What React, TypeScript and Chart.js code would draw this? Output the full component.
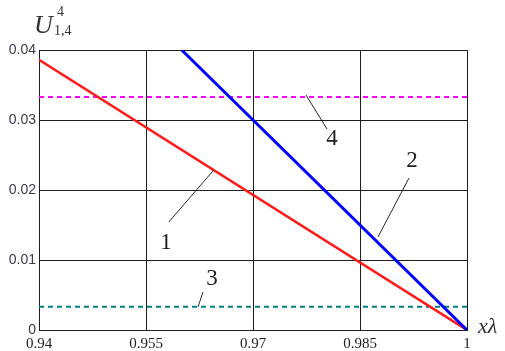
import React, { useEffect, useRef } from "react";
import { Chart, registerables } from "chart.js";

Chart.register(...registerables);

// ---- data ----
const xTickValues = [0.94, 0.955, 0.97, 0.985, 1];
const xTickLabels = ["0.94", "0.955", "0.97", "0.985", "1"];
const yTickValues = [0, 0.01, 0.02, 0.03, 0.04];
const yTickLabels = ["0", "0.01", "0.02", "0.03", "0.04"];

const curve1X = [0.94, 1];
const curve1Y = [0.0386, 0];
const curve2X = [0.96, 1];
const curve2Y = [0.04, 0];
const curve3X = [0.94, 1];
const curve3Y = [0.00333, 0.00333];
const curve4X = [0.94, 1];
const curve4Y = [0.0333, 0.0333];

// annotation labels (data coords): text, label position, leader start, leader end
const annotLabels = ["1", "2", "3", "4"];
const annotTextPos = [
  [0.9578, 0.01257],
  [0.99229, 0.02429],
  [0.96425, 0.00743],
  [0.98107, 0.02743],
];
const annotLeaderFrom = [
  [0.9582, 0.01543],
  [0.99187, 0.02171],
  [0.96229, 0.00329],
  [0.98037, 0.02871],
];
const annotLeaderTo = [
  [0.9645, 0.02286],
  [0.98752, 0.01329],
  [0.96299, 0.00543],
  [0.97743, 0.03357],
];

const toPts = (xs: number[], ys: number[]) => xs.map((x, i) => ({ x, y: ys[i] }));

const annotPlugin = {
  id: "annot",
  afterDatasetsDraw(chart: any) {
    const ctx = chart.ctx;
    const xs = chart.scales.x;
    const ys = chart.scales.y;
    ctx.save();
    ctx.strokeStyle = "#111";
    ctx.lineWidth = 0.9;
    for (let i = 0; i < annotLabels.length; i++) {
      ctx.beginPath();
      ctx.moveTo(xs.getPixelForValue(annotLeaderFrom[i][0]), ys.getPixelForValue(annotLeaderFrom[i][1]));
      ctx.lineTo(xs.getPixelForValue(annotLeaderTo[i][0]), ys.getPixelForValue(annotLeaderTo[i][1]));
      ctx.stroke();
    }
    ctx.fillStyle = "#222";
    ctx.font = "23px 'Liberation Serif'";
    ctx.textAlign = "center";
    ctx.textBaseline = "middle";
    for (let i = 0; i < annotLabels.length; i++) {
      ctx.fillText(
        annotLabels[i],
        xs.getPixelForValue(annotTextPos[i][0]),
        ys.getPixelForValue(annotTextPos[i][1]) + 1
      );
    }
    ctx.restore();
  },
  afterDraw(chart: any) {
    const ctx = chart.ctx;
    ctx.save();
    ctx.fillStyle = "#333";
    ctx.textAlign = "left";
    ctx.textBaseline = "alphabetic";
    // y axis title U^4_{1,4}
    ctx.font = "italic 26px 'Liberation Serif'";
    ctx.fillText("U", 34, 33);
    ctx.font = "14px 'Liberation Serif'";
    ctx.fillText("4", 57, 16);
    ctx.fillText("1,4", 54, 35);
    // x axis title
    ctx.font = "italic 22px 'Liberation Serif'";
    ctx.fillText("x\u03bb", 478, 333);
    ctx.restore();
  },
};

export default function App() {
  const ref = useRef<HTMLCanvasElement | null>(null);
  useEffect(() => {
    document.body.style.margin = "0";
    const canvas = ref.current;
    if (!canvas) return;
    const chart = new Chart(canvas, {
      type: "line",
      data: {
        datasets: [
          {
            label: "2",
            data: toPts(curve2X, curve2Y),
            borderColor: "#0000ff",
            borderWidth: 3,
            pointRadius: 0,
            order: 1,
          },
          {
            label: "1",
            data: toPts(curve1X, curve1Y),
            borderColor: "#ff1a1a",
            borderWidth: 2.6,
            pointRadius: 0,
            order: 2,
          },
          {
            label: "4",
            data: toPts(curve4X, curve4Y),
            borderColor: "#ff00ff",
            borderWidth: 2,
            borderDash: [5, 4],
            pointRadius: 0,
            order: 3,
          },
          {
            label: "3",
            data: toPts(curve3X, curve3Y),
            borderColor: "#008080",
            borderWidth: 2,
            borderDash: [5, 4],
            pointRadius: 0,
            order: 4,
          },
        ],
      },
      options: {
        responsive: false,
        animation: false,
        devicePixelRatio: 1,
        layout: { padding: { top: 50, right: 38, left: 0, bottom: 0 } },
        plugins: { legend: { display: false }, tooltip: { enabled: false }, title: { display: false } },
        scales: {
          x: {
            type: "linear",
            min: 0.94,
            max: 1,
            afterBuildTicks: (s: any) => {
              s.ticks = xTickValues.map((v) => ({ value: v }));
            },
            afterFit: (s: any) => {
              s.height = 21;
            },
            grid: { color: "#1e1e1e", lineWidth: 1, drawTicks: false },
            border: { color: "#1e1e1e", width: 1 },
            ticks: {
              padding: 5,
              color: "#222",
              font: { family: "'Liberation Serif'", size: 15 },
              maxRotation: 0,
              autoSkip: false,
              callback: (_v: any, i: number) => xTickLabels[i],
            },
          },
          y: {
            type: "linear",
            min: 0,
            max: 0.04,
            afterBuildTicks: (s: any) => {
              s.ticks = yTickValues.map((v) => ({ value: v }));
            },
            afterFit: (s: any) => {
              s.width = 39;
            },
            grid: { color: "#1e1e1e", lineWidth: 1, drawTicks: false },
            border: { color: "#1e1e1e", width: 1 },
            ticks: {
              padding: 3,
              color: "#3a3a4a",
              font: { family: "'Liberation Sans'", size: 14 },
              autoSkip: false,
              callback: (_v: any, i: number) => yTickLabels[i],
            },
          },
        },
      },
      plugins: [annotPlugin],
    } as any);
    return () => chart.destroy();
  }, []);
  return (
    <div style={{ position: "absolute", left: 0, top: 0, width: 505, height: 351, background: "#fff" }}>
      <canvas ref={ref} width={505} height={351} style={{ width: 505, height: 351, display: "block" }} />
    </div>
  );
}
